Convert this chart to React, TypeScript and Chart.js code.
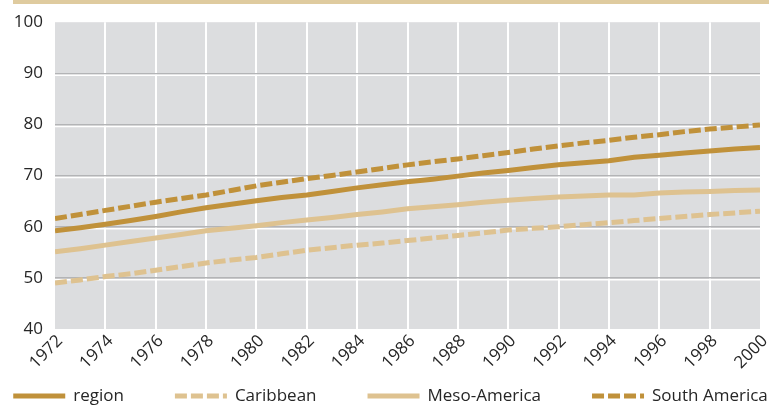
import React, { useEffect, useRef } from "react";
import { Chart, registerables } from "chart.js";

Chart.register(...registerables);

const years = [
  1972, 1973, 1974, 1975, 1976, 1977, 1978, 1979, 1980, 1981, 1982, 1983, 1984, 1985, 1986,
  1987, 1988, 1989, 1990, 1991, 1992, 1993, 1994, 1995, 1996, 1997, 1998, 1999, 2000,
];
const region = [
  59.2, 59.8, 60.5, 61.2, 62.0, 62.9, 63.7, 64.4, 65.1, 65.7, 66.2, 66.9, 67.6, 68.2, 68.8,
  69.3, 69.9, 70.5, 71.0, 71.6, 72.1, 72.5, 72.9, 73.6, 74.0, 74.4, 74.8, 75.2, 75.5,
];
const caribbean = [
  49.0, 49.6, 50.25, 50.8, 51.5, 52.2, 52.9, 53.5, 54.0, 54.7, 55.4, 55.9, 56.4, 56.8, 57.3,
  57.8, 58.3, 58.8, 59.35, 59.7, 60.0, 60.4, 60.8, 61.2, 61.6, 62.0, 62.4, 62.7, 63.05,
];
const mesoAmerica = [
  55.1, 55.7, 56.4, 57.1, 57.8, 58.5, 59.2, 59.7, 60.2, 60.8, 61.3, 61.8, 62.4, 62.9, 63.5,
  63.9, 64.3, 64.8, 65.2, 65.5, 65.8, 66.0, 66.2, 66.2, 66.6, 66.8, 66.9, 67.1, 67.2,
];
const southAmerica = [
  61.6, 62.4, 63.2, 64.0, 64.8, 65.5, 66.2, 67.1, 68.0, 68.7, 69.4, 70.0, 70.7, 71.4, 72.1,
  72.7, 73.25, 73.9, 74.5, 75.2, 75.8, 76.4, 76.9, 77.5, 78.0, 78.6, 79.1, 79.5, 79.9,
];
const seriesNames = ["region", "Caribbean", "Meso-America", "South America"];
const yMin = 40;
const yMax = 100;
const yStep = 10;
const xStep = 2;

const DARK = "#c0913a";
const LIGHT = "#dec290";
const FONT = "'Open Sans', 'DejaVu Sans', sans-serif";
const TEXT = "#262626";

const toPoints = (vals: number[]) => years.map((y, i) => ({ x: y, y: vals[i] }));

const decorPlugin = {
  id: "decor",
  beforeDraw(chart: any) {
    const { ctx, chartArea: a } = chart;
    ctx.save();
    ctx.fillStyle = "#ffffff";
    ctx.fillRect(0, 0, chart.width, chart.height);
    ctx.fillStyle = "#dfcb9f";
    ctx.fillRect(13, 0, a.right + 9 - 13, 4);
    ctx.fillStyle = "#dcdddf";
    ctx.fillRect(a.left, a.top, a.right - a.left, a.bottom - a.top);
    ctx.restore();
  },
  beforeDatasetsDraw(chart: any) {
    const { ctx, chartArea: a } = chart;
    const ys = chart.scales.y;
    ctx.save();
    ctx.strokeStyle = "#ffffff";
    ctx.lineWidth = 1.5;
    ys.ticks.forEach((t: any) => {
      if (t.value <= ys.min || t.value >= ys.max) return;
      const p = ys.getPixelForValue(t.value) + 2;
      ctx.beginPath();
      ctx.moveTo(a.left, p);
      ctx.lineTo(a.right, p);
      ctx.stroke();
    });
    ctx.restore();
  },
  afterDraw(chart: any) {
    const { ctx } = chart;
    const ds = chart.data.datasets;
    const sample = 52;
    const gapText = 8;
    ctx.save();
    ctx.font = `17px ${FONT}`;
    const widths = ds.map((d: any) => sample + gapText + ctx.measureText(d.label).width);
    const sum = widths.reduce((s: number, w: number) => s + w, 0);
    const gap = 51;
    let x = (chart.width - (sum + gap * (ds.length - 1))) / 2;
    const y = chart.height - 11;
    ds.forEach((d: any, i: number) => {
      ctx.strokeStyle = d.borderColor;
      ctx.lineWidth = d.borderWidth;
      ctx.lineCap = "butt";
      ctx.setLineDash(d.borderDash || []);
      ctx.beginPath();
      ctx.moveTo(x, y);
      ctx.lineTo(x + sample, y);
      ctx.stroke();
      ctx.setLineDash([]);
      ctx.fillStyle = TEXT;
      ctx.textBaseline = "middle";
      ctx.textAlign = "left";
      ctx.fillText(d.label, x + sample + gapText, y);
      x += widths[i] + gap;
    });
    ctx.restore();
  },
};

export default function App() {
  const ref = useRef<HTMLCanvasElement | null>(null);

  useEffect(() => {
    document.body.style.margin = "0";
    const canvas = ref.current;
    if (!canvas) return;
    const mk = (label: string, data: number[], color: string, dash: number[] | undefined) => ({
      label,
      data: toPoints(data),
      borderColor: color,
      backgroundColor: color,
      borderWidth: 5,
      borderDash: dash,
      borderCapStyle: "butt",
      pointRadius: 0,
      tension: 0,
      fill: false,
    });
    const chart = new Chart(canvas, {
      type: "line",
      data: {
        datasets: [
          mk(seriesNames[0], region, DARK, undefined),
          mk(seriesNames[1], caribbean, LIGHT, [12, 4]),
          mk(seriesNames[2], mesoAmerica, LIGHT, undefined),
          mk(seriesNames[3], southAmerica, DARK, [12, 4]),
        ] as any,
      },
      options: {
        animation: false,
        responsive: false,
        maintainAspectRatio: false,
        layout: { padding: { top: 15, right: 21, bottom: 28, left: 0 } },
        plugins: {
          legend: { display: false },
          tooltip: { enabled: false },
        },
        scales: {
          x: {
            type: "linear",
            min: years[0],
            max: years[years.length - 1],
            border: { display: false },
            grid: {
              drawTicks: false,
              lineWidth: 2,
              color: (c: any) =>
                c.tick && (c.tick.value === years[0] || c.tick.value === years[years.length - 1])
                  ? "rgba(0,0,0,0)"
                  : "#ffffff",
            },
            ticks: {
              stepSize: xStep,
              autoSkip: false,
              maxRotation: 45,
              minRotation: 45,
              padding: 2,
              labelOffset: 5,
              color: TEXT,
              font: { family: FONT, size: 17 },
              callback: (v: any) => String(v),
            },
            afterFit: (s: any) => {
              s.height = 50;
            },
          },
          y: {
            min: yMin,
            max: yMax,
            border: { display: false },
            grid: {
              drawTicks: false,
              lineWidth: 1.5,
              color: (c: any) =>
                c.tick && (c.tick.value === yMin || c.tick.value === yMax) ? "rgba(0,0,0,0)" : "#b3b4b6",
            },
            ticks: {
              stepSize: yStep,
              padding: 12,
              color: TEXT,
              font: { family: FONT, size: 17 },
            },
            afterFit: (s: any) => {
              s.width = 55;
            },
          },
        },
      } as any,
      plugins: [decorPlugin],
    });
    return () => chart.destroy();
  }, []);

  return (
    <div style={{ width: 781, height: 407 }}>
      <canvas ref={ref} width={781} height={407} style={{ display: "block" }} />
    </div>
  );
}
